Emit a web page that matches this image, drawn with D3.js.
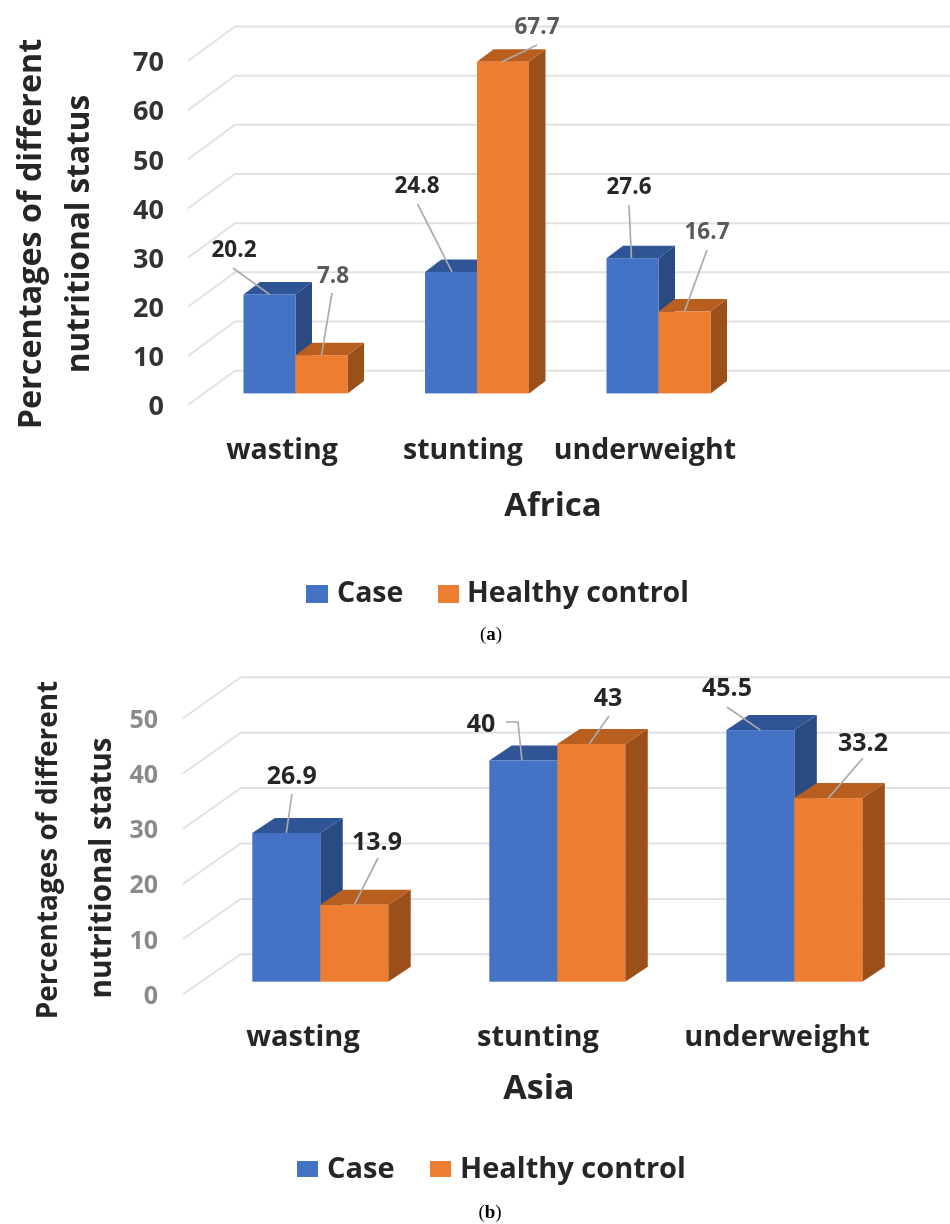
<!DOCTYPE html>
<html><head><meta charset="utf-8">
<script src="https://cdn.jsdelivr.net/npm/d3@7"></script>
<style>
html,body{margin:0;padding:0;background:#fff}
svg{display:block}
text{font-family:"Open Sans",sans-serif;font-weight:700;fill:#262626}
.blur{filter:blur(0.6px)}
</style></head><body>
<svg id="c" width="950" height="1224"></svg>
<script>
const categories = ["wasting", "stunting", "underweight"];
const seriesNames = ["Case", "Healthy control"];
const africaCase = [20.2, 24.8, 27.6];
const africaControl = [7.8, 67.7, 16.7];
const asiaCase = [26.9, 40, 45.5];
const asiaControl = [13.9, 43, 33.2];
const africaTicks = [0, 10, 20, 30, 40, 50, 60, 70];
const asiaTicks = [0, 10, 20, 30, 40, 50];
const yTitleLines = ["Percentages of different", "nutritional status"];

const colors = {
  Case: {front: "#4472C4", top: "#2F5597", side: "#2A4A82"},
  "Healthy control": {front: "#ED7D31", top: "#B85F20", side: "#9A5018"}
};
const svg = d3.select("#c");
const root = svg.append("g").attr("class", "blur");

function panel(p) {
  const g = root.append("g");
  const yBar = d3.scaleLinear().domain([0, p.maxV]).range([p.barBase, p.barBase - p.pxPerUnit * p.maxV]);
  const yWall = d3.scaleLinear().domain([0, p.maxV]).range(p.wallY);
  const yFront = d3.scaleLinear().domain([0, p.maxV]).range(p.frontY);
  const x0 = d3.scaleBand().domain(categories).range(p.barX).paddingInner(p.padInner);
  const x1 = d3.scaleBand().domain(seriesNames).range([0, x0.bandwidth()]);

  // walls
  g.append("g").selectAll("path").data(p.ticks).join("path")
    .attr("d", d => d3.line()([[p.frontX, yFront(d)], [p.wallX, yWall(d)], [p.wallEnd, yWall(d)]]))
    .attr("fill", "none").attr("stroke", "#E2E2E2").attr("stroke-width", 2);

  // value axis
  const ax = g.append("g").attr("transform", `translate(${p.tickX},0)`)
    .call(d3.axisLeft(yFront).tickValues(p.ticks).tickSize(0).tickPadding(0).tickFormat(d3.format("d")));
  ax.select(".domain").remove();
  ax.selectAll("text").attr("font-size", p.tickSize).style("font-family", '"Open Sans",sans-serif')
    .style("font-weight", 700).style("fill", p.tickColor).attr("dy", "0.36em");

  // bars
  const rows = [];
  categories.forEach((c, i) => {
    rows.push({c, s: seriesNames[0], v: p.case[i], i, j: 0});
    rows.push({c, s: seriesNames[1], v: p.control[i], i, j: 1});
  });
  const [dx, dy] = p.depth;
  const bars = g.append("g").selectAll("g").data(rows).join("g");
  const poly = pts => d3.line()(pts) + "Z";
  bars.append("path").attr("fill", d => colors[d.s].side).attr("d", d => {
    const r = x0(d.c) + x1(d.s) + x1.bandwidth();
    return poly([[r, yBar(d.v)], [r + dx, yBar(d.v) + dy], [r + dx, p.barBase + dy], [r, p.barBase]]);
  });
  bars.append("path").attr("fill", d => colors[d.s].top).attr("d", d => {
    const l = x0(d.c) + x1(d.s), r = l + x1.bandwidth();
    return poly([[l, yBar(d.v)], [l + dx, yBar(d.v) + dy], [r + dx, yBar(d.v) + dy], [r, yBar(d.v)]]);
  });
  bars.append("rect").attr("fill", d => colors[d.s].front)
    .attr("x", d => x0(d.c) + x1(d.s)).attr("width", x1.bandwidth())
    .attr("y", d => yBar(d.v)).attr("height", d => p.barBase - yBar(d.v));

  // data labels with leaders
  rows.forEach((d, k) => {
    const L = p.labels[k];
    const ex = x0(d.c) + x1(d.s) + x1.bandwidth() * L.along, ey = yBar(d.v);
    const pts = [...L.leader, [ex, ey]];
    g.append("path").attr("d", d3.line()(pts)).attr("fill", "none")
      .attr("stroke", "#ABABAB").attr("stroke-width", 1.7);
    g.append("text").attr("x", L.at[0]).attr("y", L.at[1]).attr("dy", "0.36em")
      .attr("text-anchor", "middle").attr("font-size", p.labelSize)
      .style("fill", L.color || "#262626").text(d.v);
  });

  // category labels
  g.append("g").selectAll("text").data(categories).join("text")
    .attr("x", (d, i) => p.catX[i]).attr("y", p.catY).attr("dy", "0.36em")
    .attr("text-anchor", "middle").attr("font-size", p.catSize).text(d => d);

  // axis titles
  g.append("text").attr("x", p.title[0]).attr("y", p.title[1]).attr("dy", "0.36em")
    .attr("text-anchor", "middle").attr("font-size", p.titleSize).text(p.name);
  yTitleLines.forEach((t, i) => {
    g.append("text").attr("transform", `translate(${p.yTitleX[i]},${p.yTitleY[i]}) rotate(-90)`)
      .attr("text-anchor", "middle").attr("dy", "0.36em").attr("font-size", p.yTitleSize[i]).text(t);
  });

  // legend
  seriesNames.forEach((s, i) => {
    const L = p.legend[i];
    g.append("rect").attr("x", L.box[0]).attr("y", L.box[1]).attr("width", L.box[2]).attr("height", L.box[3])
      .attr("fill", colors[s].front);
    g.append("text").attr("x", L.text).attr("y", p.legendY).attr("dy", "0.36em")
      .attr("font-size", p.legendSize).text(s);
  });

  // sub caption
  const cap = g.append("text").attr("x", p.cap[0]).attr("y", p.cap[1]).attr("text-anchor", "middle")
    .attr("font-size", 19).style("font-family", '"Liberation Serif",serif').style("font-weight", 400).style("fill", "#000");
  cap.append("tspan").text("(");
  cap.append("tspan").style("font-weight", 700).text(p.capLetter);
  cap.append("tspan").text(")");
}

panel({
  name: "Africa", capLetter: "a", cap: [491, 640],
  case: africaCase, control: africaControl, ticks: africaTicks, maxV: 70,
  barBase: 393.4, pxPerUnit: 4.9, barX: [243.5, 710.5], padInner: 0.427, depth: [16.5, -12.5],
  wallY: [370.7, 26.5], frontY: [405, 61], frontX: 188, wallX: 235, wallEnd: 950,
  tickX: 164, tickSize: 27, tickColor: "#333",
  labelSize: 22.5,
  labels: [
    {at: [234, 249], leader: [[233, 268]], along: 0.5},
    {at: [333, 275], leader: [[332, 293]], along: 0.5, color: "#595959"},
    {at: [417, 185], leader: [[417.5, 204]], along: 0.52},
    {at: [537, 26], leader: [[537, 45]], along: 0.48, color: "#595959"},
    {at: [629, 186], leader: [[629, 205]], along: 0.48},
    {at: [707, 231], leader: [[707, 250]], along: 0.5, color: "#595959"}
  ],
  catX: [282, 463, 645], catY: 449, catSize: 28.5,
  title: [553, 504], titleSize: 33,
  yTitleX: [29, 78], yTitleY: [234, 234], yTitleSize: [32.3, 31.6],
  legend: [{box: [306, 585, 22, 18], text: 337}, {box: [438, 585, 21, 18], text: 467}],
  legendY: 592, legendSize: 28.5
});

panel({
  name: "Asia", capLetter: "b", cap: [490, 1218],
  case: asiaCase, control: asiaControl, ticks: asiaTicks, maxV: 50,
  barBase: 981.7, pxPerUnit: 5.53, barX: [252.3, 862.3], padInner: 0.4266, depth: [22.5, -15],
  wallY: [954.3, 677.3], frontY: [994.3, 718.3], frontX: 183, wallX: 240.7, wallEnd: 950,
  tickX: 158, tickSize: 25, tickColor: "#8a8a8a",
  labelSize: 25,
  labels: [
    {at: [291.7, 775], leader: [[292, 794]], along: 0.5},
    {at: [377, 841], leader: [[378, 858]], along: 0.5},
    {at: [481, 723], leader: [[506, 722], [518, 722]], along: 0.48},
    {at: [608, 697], leader: [[609, 716]], along: 0.47},
    {at: [727, 687], leader: [[727, 707]], along: 0.5},
    {at: [863, 742], leader: [[863, 758]], along: 0.5}
  ],
  catX: [303, 538, 777], catY: 1036, catSize: 29,
  title: [539, 1087], titleSize: 34,
  yTitleX: [47, 100], yTitleY: [850, 868], yTitleSize: [28, 29.6],
  legend: [{box: [297, 1161, 21, 16], text: 327}, {box: [430, 1161, 21, 16], text: 460}],
  legendY: 1168, legendSize: 29
});
</script>
</body></html>
